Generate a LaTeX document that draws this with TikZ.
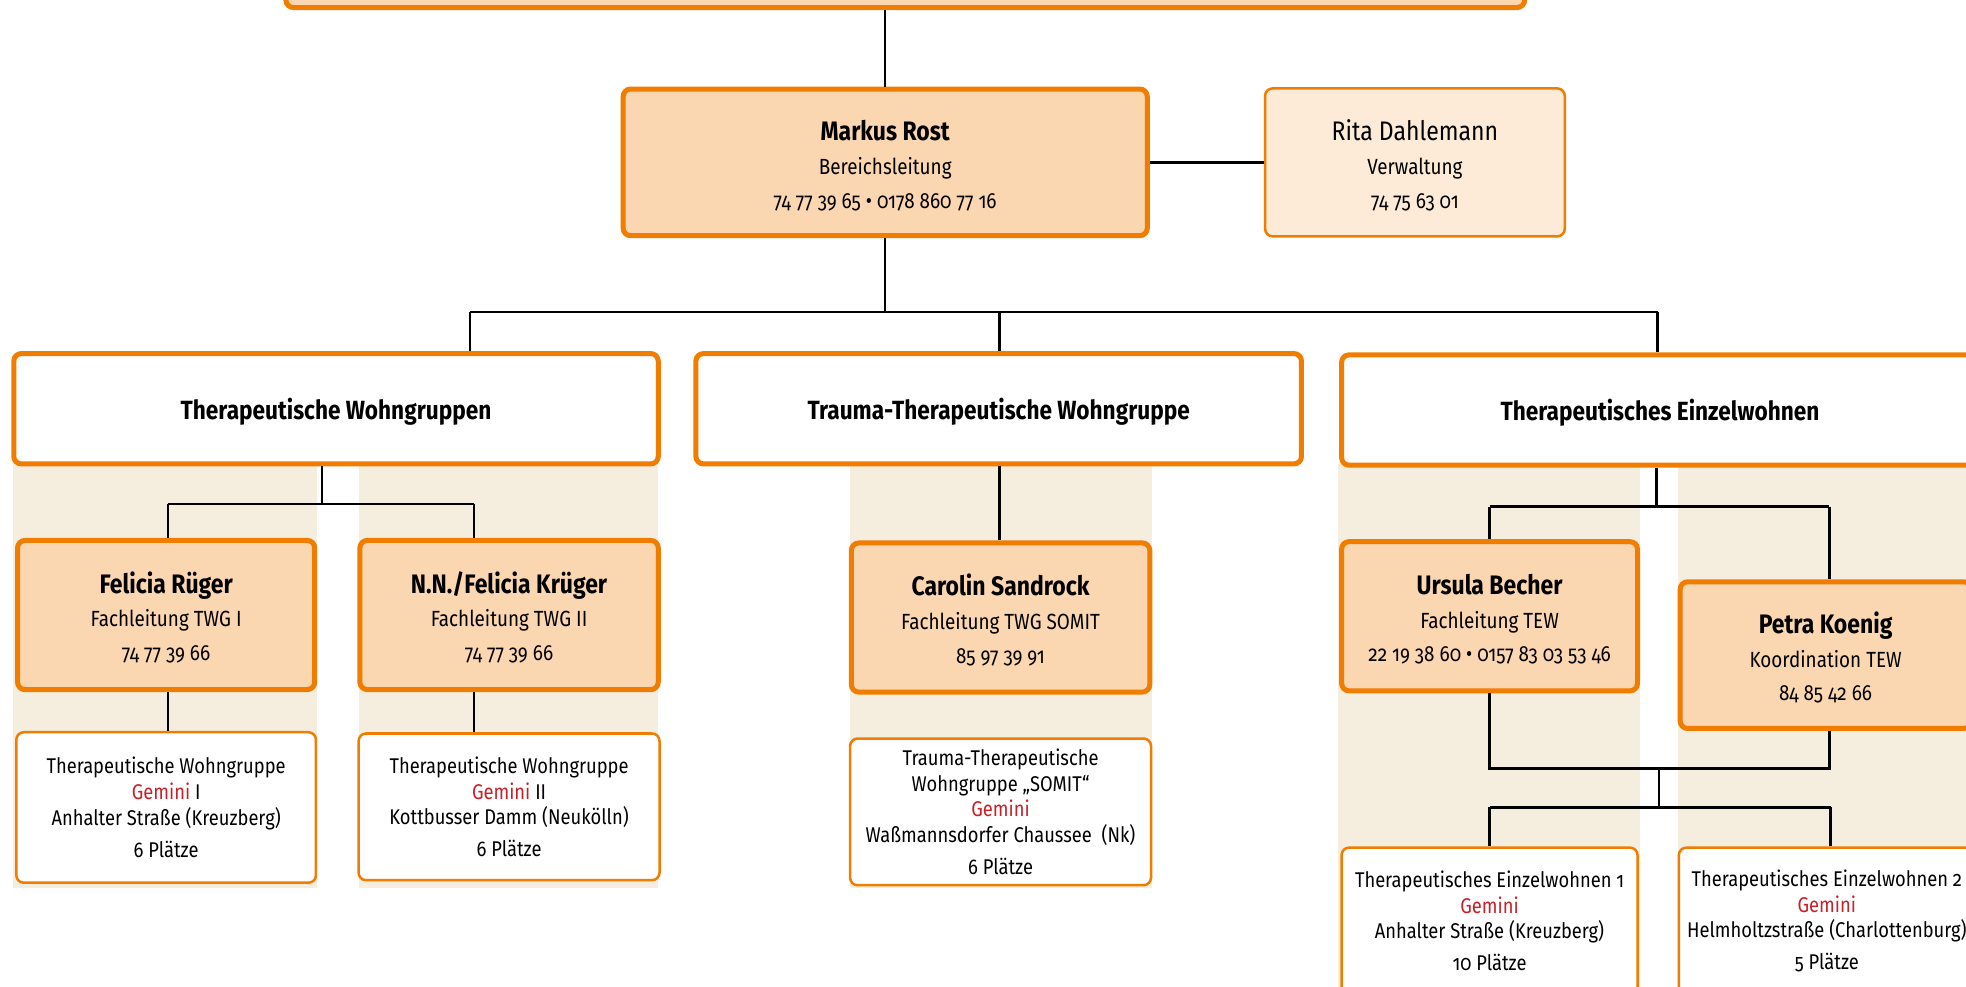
\documentclass[tikz,border=0pt]{standalone}
\usepackage{fontspec}
\setmainfont{Fira Sans}[FakeStretch=0.86,Numbers=OldStyle]
\usetikzlibrary{positioning}
\definecolor{orng}{RGB}{240,125,0}
\definecolor{peach}{RGB}{250,214,177}
\definecolor{lightpeach}{RGB}{253,235,216}
\definecolor{beige}{RGB}{245,238,222}
\definecolor{gred}{RGB}{200,32,40}
\tikzset{
  thickbox/.style={draw=orng, line width=4pt, rounded corners=6pt, fill=peach, align=center, inner sep=0pt,
    font=\fontsize{17.5}{27}\selectfont},
  catbox/.style={draw=orng, line width=4pt, rounded corners=6pt, fill=white, align=center, inner sep=0pt,
    font=\fontsize{21}{24}\selectfont\bfseries},
  thinbox/.style={draw=orng, line width=2pt, rounded corners=6pt, fill=white, align=center, inner sep=0pt,
    font=\fontsize{17}{20.5}\selectfont},
  conn/.style={draw=black, line width=2pt},
}
\newcommand{\pname}[1]{\rule{0pt}{21pt}{\fontsize{21.3}{27}\selectfont\bfseries #1}}
\newcommand{\cname}[1]{\rule{0pt}{22pt}#1}
\newcommand{\gem}{\textcolor{gred}{Gemini}}
\begin{document}
\begin{tikzpicture}[x=1pt,y=-1pt]
\clip (0,0) rectangle (1568,787);
\fill[white] (0,0) rectangle (1568,787);
% background columns
\fill[beige] (10,370) rectangle (253,708);
\fill[beige] (286,370) rectangle (525,708);
\fill[beige] (678,370) rectangle (919,708);
\fill[beige] (1067,370) rectangle (1308,800);
\fill[beige] (1338,370) rectangle (1580,800);

% top box
\node[thickbox, minimum width=988, minimum height=70] (top) at (722,-29) {};
% level 1
\node[thickbox, minimum width=418, minimum height=117] (markus) at (706,129.5)
  {\pname{Markus Rost}\\Bereichsleitung\\74 77 39 65 • 0178 860 77 16};
\node[thinbox, fill=lightpeach, minimum width=239, minimum height=118, font=\fontsize{17.5}{27}\selectfont] (rita) at (1128.5,129.5)
  {\rule{0pt}{21pt}{\fontsize{21.4}{27}\selectfont Rita Dahlemann}\\Verwaltung\\74 75 63 01};
% categories
\node[catbox, minimum width=514, minimum height=88] (tw) at (268,326) {\cname{Therapeutische Wohngruppen}};
\node[catbox, minimum width=483, minimum height=88] (ttw) at (796.5,326) {\cname{Trauma-Therapeutische Wohngruppe}};
\node[catbox, minimum width=508, minimum height=88] (tew) at (1324,327) {\cname{Therapeutisches Einzelwohnen}};
% level 2
\node[thickbox, minimum width=237, minimum height=119] (felicia) at (132.5,490.5)
  {\pname{Felicia Rüger}\\Fachleitung TWG I\\74 77 39 66};
\node[thickbox, minimum width=238, minimum height=119] (nn) at (406,490.5)
  {\pname{N.N./Felicia Krüger}\\Fachleitung TWG II\\74 77 39 66};
\node[thickbox, minimum width=238, minimum height=119] (carolin) at (798,492.5)
  {\pname{Carolin Sandrock}\\Fachleitung TWG SOMIT\\85 97 39 91};
\node[thickbox, minimum width=236, minimum height=119] (ursula) at (1188,491.5)
  {\pname{Ursula Becher}\\Fachleitung TEW\\22 19 38 60 • 0157 83 03 53 46};
\node[thickbox, minimum width=232, minimum height=117] (petra) at (1456,522.5)
  {\pname{Petra Koenig}\\Koordination TEW\\84 85 42 66};
% units
\node[thinbox, minimum width=239, minimum height=120] (u1) at (132.5,644)
  {Therapeutische Wohngruppe\\\gem{} I\\Anhalter Straße (Kreuzberg)\\[5pt]6 Plätze};
\node[thinbox, minimum width=240, minimum height=117] (u2) at (406,643.5)
  {Therapeutische Wohngruppe\\\gem{} II\\Kottbusser Damm (Neukölln)\\[5pt]6 Plätze};
\node[thinbox, minimum width=240, minimum height=117] (u3) at (798,647.5)
  {Trauma-Therapeutische\\Wohngruppe „SOMIT“\\\gem\\Waßmannsdorfer Chaussee~~(Nk)\\[5pt]6 Plätze};
\node[thinbox, minimum width=236, minimum height=117] (u4) at (1188,734.5)
  {Therapeutisches Einzelwohnen 1\\\gem\\Anhalter Straße (Kreuzberg)\\[5pt]10 Plätze};
\node[thinbox, minimum width=236, minimum height=117] (u5) at (1457,734.5)
  {Therapeutisches Einzelwohnen 2\\\gem\\Helmholtzstraße (Charlottenburg)\\[5pt]5 Plätze};

% connectors
\draw[conn] (markus.north) -- (markus.north |- top.south);
\draw[conn] (markus.east) -- (rita.west);
\coordinate (bus) at (706,249);
\coordinate (b1) at (375,249);
\coordinate (b2) at (797,249);
\coordinate (b3) at (1322,249);
\draw[conn] (markus.south) -- (bus);
\draw[conn] (b1) -- (b3);
\draw[conn] (b1) -- (b1 |- tw.north);
\draw[conn] (b2) -- (b2 |- ttw.north);
\draw[conn] (b3) -- (b3 |- tew.north);
% TW children
\coordinate (t1) at (257,402);
\coordinate (t1l) at (134,402);
\coordinate (t1r) at (378,402);
\draw[conn] (t1 |- tw.south) -- (t1);
\draw[conn] (t1l) -- (t1r);
\draw[conn] (t1l) -- (t1l |- felicia.north);
\draw[conn] (t1r) -- (t1r |- nn.north);
\draw[conn] (felicia.south -| t1l) -- (t1l |- u1.north);
\draw[conn] (nn.south -| t1r) -- (t1r |- u2.north);
% TTW child
\draw[conn] (b2 |- ttw.south) -- (b2 |- carolin.north);
% TEW children
\coordinate (t3) at (1321,404);
\coordinate (t3l) at (1188,404);
\coordinate (t3r) at (1459,404);
\draw[conn] (t3 |- tew.south) -- (t3);
\draw[conn] (t3l) -- (t3r);
\draw[conn] (t3l) -- (t3l |- ursula.north);
\draw[conn] (t3r) -- (t3r |- petra.north);
\coordinate (m3l) at (1188,613);
\coordinate (m3r) at (1459,613);
\coordinate (m3) at (1323,613);
\draw[conn] (t3l |- ursula.south) -- (m3l) -- (m3r) -- (t3r |- petra.south);
\coordinate (n3) at (1323,644);
\coordinate (n3l) at (1188,644);
\coordinate (n3r) at (1460,644);
\draw[conn] (m3) -- (n3);
\draw[conn] (n3l) -- (n3r);
\draw[conn] (n3l) -- (n3l |- u4.north);
\draw[conn] (n3r) -- (n3r |- u5.north);
\end{tikzpicture}
\end{document}
